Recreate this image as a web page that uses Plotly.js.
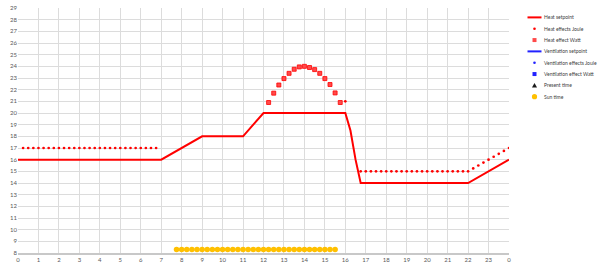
<!DOCTYPE html>
<html><head><meta charset="utf-8">
<script src="https://cdn.plot.ly/plotly-3.0.1.min.js"></script>
<style>html,body{margin:0;padding:0;background:#fff}#chart{width:600px;height:271px}</style>
</head><body><div id="chart"></div>
<script>
// ---- axis ticks ----
const hourTicks = [0,1,2,3,4,5,6,7,8,9,10,11,12,13,14,15,16,17,18,19,20,21,22,23,24];
const hourLabels = ['0','1','2','3','4','5','6','7','8','9','10','11','12','13','14','15','16','17','18','19','20','21','22','23','0'];

// ---- series ----
const seriesNames = ['Heat setpoint','Heat effects Joule','Heat effect Watt','Ventilation setpoint','Ventilation effects Joule','Ventilation effect Watt','Present time','Sun time'];

const heatSetpointHours  = [0, 7, 9, 11, 12, 16, 16.25, 16.5, 16.75, 22, 24];
const heatSetpointValues = [16, 16, 18, 18, 20, 20, 18.5, 16, 14, 14, 16];

const heatJouleHours = [0.25,0.5,0.75,1,1.25,1.5,1.75,2,2.25,2.5,2.75,3,3.25,3.5,3.75,4,4.25,4.5,4.75,5,5.25,5.5,5.75,6,6.25,6.5,6.75,
  16,
  16.75,17,17.25,17.5,17.75,18,18.25,18.5,18.75,19,19.25,19.5,19.75,20,20.25,20.5,20.75,21,21.25,21.5,21.75,22,
  22.25,22.5,22.75,23,23.25,23.5,23.75,24];
const heatJouleValues = [17,17,17,17,17,17,17,17,17,17,17,17,17,17,17,17,17,17,17,17,17,17,17,17,17,17,17,
  21,
  15,15,15,15,15,15,15,15,15,15,15,15,15,15,15,15,15,15,15,15,15,15,
  15.25,15.5,15.75,16,16.25,16.5,16.75,17];

const heatWattHours  = [12.25,12.5,12.75,13,13.25,13.5,13.75,14,14.25,14.5,14.75,15,15.25,15.5,15.75];
const heatWattValues = [20.9,21.7,22.4,22.95,23.4,23.75,23.95,24.0,23.9,23.72,23.4,22.95,22.44,21.72,20.9];

const ventSetpointHours = [], ventSetpointValues = [];
const ventJouleHours = [], ventJouleValues = [];
const ventWattHours = [], ventWattValues = [];
const presentHours = [], presentValues = [];

const sunHours = [7.75,8,8.25,8.5,8.75,9,9.25,9.5,9.75,10,10.25,10.5,10.75,11,11.25,11.5,11.75,12,12.25,12.5,12.75,13,13.25,13.5,13.75,14,14.25,14.5,14.75,15,15.25,15.5];
const sunValues = [8.3,8.3,8.3,8.3,8.3,8.3,8.3,8.3,8.3,8.3,8.3,8.3,8.3,8.3,8.3,8.3,8.3,8.3,8.3,8.3,8.3,8.3,8.3,8.3,8.3,8.3,8.3,8.3,8.3,8.3,8.3,8.3];

// ---- styles ----
const RED = '#ff0000', BLUE = '#2222ff', SUN = '#ffc000', DARK = '#1a1a1a';
const traces = [
  {name: seriesNames[0], x: heatSetpointHours, y: heatSetpointValues, mode: 'lines', line: {color: RED, width: 2}, _leg: 'line'},
  {name: seriesNames[1], x: heatJouleHours, y: heatJouleValues, mode: 'markers', marker: {color: RED, size: 2.7, symbol: 'circle'}, _leg: 'circle', _r: 1.3},
  {name: seriesNames[2], x: heatWattHours, y: heatWattValues, mode: 'markers', marker: {color: '#ff4a4a', size: 4, symbol: 'square', line: {color: RED, width: 0.8}}, _leg: 'rect', _r: 2},
  {name: seriesNames[3], x: ventSetpointHours, y: ventSetpointValues, mode: 'lines', line: {color: BLUE, width: 2}, _leg: 'line'},
  {name: seriesNames[4], x: ventJouleHours, y: ventJouleValues, mode: 'markers', marker: {color: BLUE, size: 2.7}, _leg: 'circle', _r: 1.3},
  {name: seriesNames[5], x: ventWattHours, y: ventWattValues, mode: 'markers', marker: {color: BLUE, size: 4, symbol: 'square'}, _leg: 'rect', _r: 2},
  {name: seriesNames[6], x: presentHours, y: presentValues, mode: 'markers', marker: {color: DARK, size: 5, symbol: 'triangle-up'}, _leg: 'tri', _r: 2.5},
  {name: seriesNames[7], x: sunHours, y: sunValues, mode: 'markers', marker: {color: SUN, size: 5.6, symbol: 'circle'}, _leg: 'circle', _r: 2.6}
];

// ---- layout geometry (pixels) ----
const W = 600, H = 271;
const M = {l: 18, r: 91, t: 8, b: 18};
const PW = W - M.l - M.r, PH = H - M.t - M.b;
const px2x = p => (p - M.l) / PW;
const py2y = p => (H - M.b - p) / PH;

const shapes = [], annotations = [];
const legTop = 17.4, legStep = 11.33;
traces.forEach((t, i) => {
  const yc = py2y(legTop + legStep * i);
  const color = t._leg === 'line' ? t.line.color : t.marker.color;
  if (t._leg === 'line') {
    shapes.push({type: 'line', xref: 'paper', yref: 'paper', x0: px2x(527.5), x1: px2x(541.5), y0: yc, y1: yc, line: {color: color, width: 2}});
  } else if (t._leg === 'tri') {
    shapes.push({type: 'path', xref: 'paper', yref: 'paper', xsizemode: 'pixel', ysizemode: 'pixel', xanchor: px2x(534.5), yanchor: yc,
      path: 'M-2.5,-2L2.5,-2L0,2.3Z', fillcolor: color, line: {width: 0}});
  } else {
    const r = t._r;
    shapes.push({type: t._leg, xref: 'paper', yref: 'paper', xsizemode: 'pixel', ysizemode: 'pixel', xanchor: px2x(534.5), yanchor: yc,
      x0: -r, x1: r, y0: -r, y1: r, fillcolor: color, line: {width: 0}});
  }
  annotations.push({xref: 'paper', yref: 'paper', x: px2x(542), y: yc, xanchor: 'left', yanchor: 'middle', showarrow: false,
    text: t.name, font: {family: 'Lato, Liberation Sans, sans-serif', size: 5, color: '#404040'}});
});

const data = traces.map(t => { const c = Object.assign({}, t); delete c._leg; delete c._r; c.showlegend = false; c.hoverinfo = 'x+y+name'; return c; });

const tickFont = {family: 'Lato, Liberation Sans, sans-serif', size: 6, color: '#595959'};
const layout = {
  width: W, height: H,
  margin: {l: M.l, r: M.r, t: M.t, b: M.b, pad: 0},
  paper_bgcolor: '#ffffff', plot_bgcolor: '#ffffff',
  showlegend: false,
  xaxis: {range: [0, 24], tickvals: hourTicks, ticktext: hourLabels, tickfont: tickFont, ticks: '', gridcolor: '#dcdcdc', gridwidth: 1,
    zeroline: false, showline: true, linecolor: '#c8c8c8', linewidth: 2, mirror: false, fixedrange: true},
  yaxis: {range: [8, 29], dtick: 1, tick0: 8, tickfont: tickFont, ticks: '', gridcolor: '#dcdcdc', gridwidth: 1,
    zeroline: false, showline: false, fixedrange: true},
  shapes: shapes, annotations: annotations
};
Plotly.newPlot('chart', data, layout, {displayModeBar: false, staticPlot: true});
</script></body></html>
